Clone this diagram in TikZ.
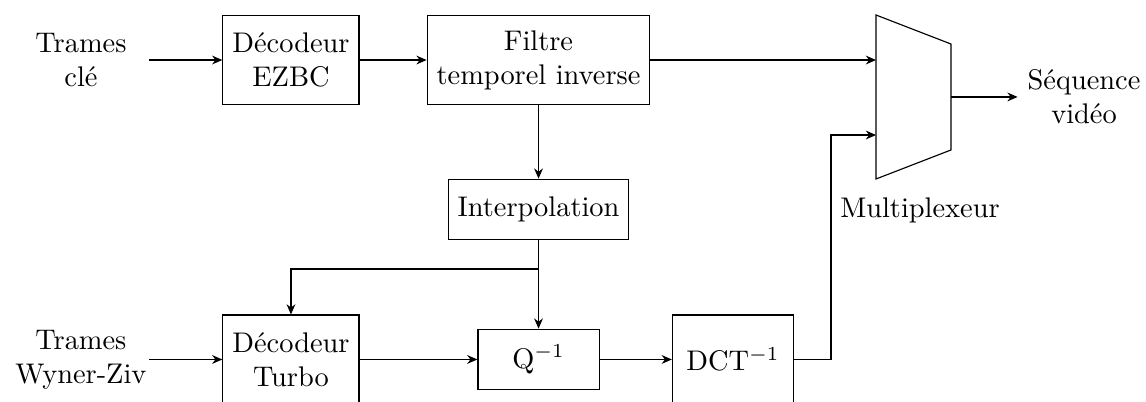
\documentclass[tikz,border=0pt]{standalone}
\usepackage{fontspec}
\usepackage{amsmath}
\usepackage{tikz}
\usetikzlibrary{arrows.meta, positioning, calc}

\begin{document}
\begin{tikzpicture}[
    bloc/.style={draw, align=center, minimum height=1.1cm},
    petitbloc/.style={draw, align=center, minimum height=0.75cm},
    texte/.style={align=center},
    fleche/.style={-{Stealth[length=3.6pt, width=3.1pt]}}
  ]
  \useasboundingbox (0,0) rectangle (14.183,-4.963);

  %% Trames cle
  \node[texte] (tcle) at (1.002,-0.743) {Trames\\clé};
  \coordinate (incle) at (1.844,-0.743);
  \node[bloc] (ezbc) at (3.601,-0.743) {Décodeur\\EZBC};
  \node[bloc] (filtre) at (6.665,-0.743) {Filtre\\temporel inverse};

  %% Multiplexeur
  \coordinate (muxhg) at (10.842,-0.186);
  \coordinate (muxbg) at (10.842,-2.215);
  \coordinate (muxhd) at (11.770,-0.545);
  \coordinate (muxbd) at (11.770,-1.856);
  \draw (muxhg) -- (muxhd) -- (muxbd) -- (muxbg) -- cycle;
  \coordinate (muxa) at (10.842,-0.743);
  \coordinate (muxb) at (10.842,-1.671);
  \coordinate (muxs) at (11.770,-1.200);
  \node (muxtxt) at (11.386,-2.600) {Multiplexeur};
  \node[texte] (seq) at (13.416,-1.200) {Séquence\\vidéo};

  %% Interpolation
  \node[petitbloc] (interp) at (6.665,-2.593) {Interpolation};
  \coordinate (bif) at (6.665,-3.329);

  %% Trames Wyner-Ziv
  \node[texte] (twz) at (1.002,-4.449) {Trames\\Wyner-Ziv};
  \coordinate (inwz) at (1.844,-4.449);
  \node[bloc] (turbo) at (3.601,-4.449) {Décodeur\\Turbo};
  \node[petitbloc, minimum width=1.5cm] (quant) at (6.665,-4.449) {Q$^{-1}$};
  \node[bloc, minimum width=1.5cm] (dct) at (9.072,-4.449) {DCT$^{-1}$};
  \coordinate (montee) at (10.285,-1.671);

  %% Liaisons
  \draw[fleche] (incle) -- (ezbc);
  \draw[fleche] (ezbc) -- (filtre);
  \draw[fleche] (filtre) -- (muxa);
  \draw[fleche] (muxs) -- (seq);
  \draw[fleche] (filtre) -- (interp);
  \draw[fleche] (interp) -- (quant);
  \draw[fleche] (bif) -| (turbo);
  \draw[fleche] (inwz) -- (turbo);
  \draw[fleche] (turbo) -- (quant);
  \draw[fleche] (quant) -- (dct);
  \draw[fleche] (dct) -| (montee) -- (muxb);
\end{tikzpicture}
\end{document}
